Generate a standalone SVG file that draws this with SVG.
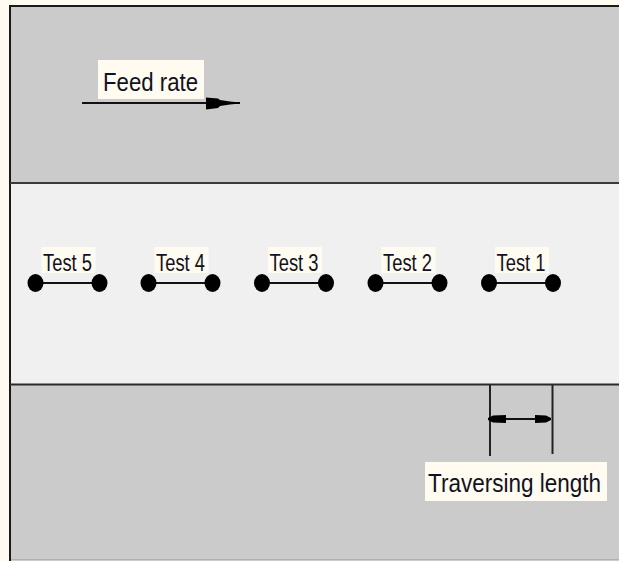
<svg xmlns="http://www.w3.org/2000/svg" width="619" height="561" viewBox="0 0 619 561">
<defs>
<style>
.lbl{fill:#FFFBF0}
.t{font-family:"Liberation Sans",Arial,sans-serif;fill:#111122}
.ln{stroke:#111;stroke-width:2;fill:none}
.dot{fill:#000}
.ah{fill:#000}
</style>
</defs>
<rect x="0" y="0" width="619" height="561" fill="#FFFBF0"/>
<g id="frame">
<rect x="10" y="6" width="640" height="600" fill="#CBCBCB" stroke="#1a1a1a" stroke-width="2"/>
<rect x="11" y="183" width="640" height="201" fill="#F0F0F0"/>
<line x1="10" y1="183" x2="619" y2="183" stroke="#3a3a3a" stroke-width="2"/>
<line x1="10" y1="384.5" x2="619" y2="384.5" stroke="#2a2a2a" stroke-width="2"/>
<line x1="11" y1="559.5" x2="619" y2="559.5" stroke="#b0b0b0" stroke-width="1"/>
</g>
<g id="feed-rate">
<rect class="lbl" x="98" y="60" width="106" height="39"/>
<text class="t" x="103" y="90.5" font-size="26" textLength="95" lengthAdjust="spacingAndGlyphs">Feed rate</text>
</g>
<g id="connectors">
<line class="ln" x1="82" y1="103" x2="240" y2="103"/>
<polygon class="ah" points="206,97.5 218,98.5 220,100 230,101.5 240,102.5 240,103.5 230,104.5 220,106 218,108 206,109.5"/>
<line x1="490" y1="385" x2="490" y2="456" stroke="#222" stroke-width="2"/>
<line x1="552.5" y1="385" x2="552.5" y2="454" stroke="#222" stroke-width="2"/>
<line class="ln" x1="488" y1="419" x2="551" y2="419"/>
<polygon class="ah" points="488,418 493,415.5 506,415 506,423 493,422.5 488,420"/>
<polygon class="ah" points="551,418 546,415.5 535,415 535,423 546,422.5 551,420"/>
</g>
<g id="test5">
<rect class="lbl" x="41.5" y="247" width="54" height="26"/>
<text class="t" x="43" y="271" font-size="23.5" textLength="49" lengthAdjust="spacingAndGlyphs">Test 5</text>
<line class="ln" x1="35.5" y1="283" x2="99.5" y2="283"/>
<ellipse class="dot" cx="35.5" cy="283" rx="8" ry="9"/>
<ellipse class="dot" cx="99.5" cy="283" rx="8" ry="9"/>
</g>
<g id="test4">
<rect class="lbl" x="154.5" y="247" width="54" height="26"/>
<text class="t" x="156" y="271" font-size="23.5" textLength="49" lengthAdjust="spacingAndGlyphs">Test 4</text>
<line class="ln" x1="148.5" y1="283" x2="212.5" y2="283"/>
<ellipse class="dot" cx="148.5" cy="283" rx="8" ry="9"/>
<ellipse class="dot" cx="212.5" cy="283" rx="8" ry="9"/>
</g>
<g id="test3">
<rect class="lbl" x="268" y="247" width="54" height="26"/>
<text class="t" x="269.5" y="271" font-size="23.5" textLength="49" lengthAdjust="spacingAndGlyphs">Test 3</text>
<line class="ln" x1="262" y1="283" x2="326" y2="283"/>
<ellipse class="dot" cx="262" cy="283" rx="8" ry="9"/>
<ellipse class="dot" cx="326" cy="283" rx="8" ry="9"/>
</g>
<g id="test2">
<rect class="lbl" x="381.5" y="247" width="54" height="26"/>
<text class="t" x="383" y="271" font-size="23.5" textLength="49" lengthAdjust="spacingAndGlyphs">Test 2</text>
<line class="ln" x1="375.5" y1="283" x2="439.5" y2="283"/>
<ellipse class="dot" cx="375.5" cy="283" rx="8" ry="9"/>
<ellipse class="dot" cx="439.5" cy="283" rx="8" ry="9"/>
</g>
<g id="test1">
<rect class="lbl" x="495" y="247" width="54" height="26"/>
<text class="t" x="496.5" y="271" font-size="23.5" textLength="49" lengthAdjust="spacingAndGlyphs">Test 1</text>
<line class="ln" x1="489" y1="283" x2="553" y2="283"/>
<ellipse class="dot" cx="489" cy="283" rx="8" ry="9"/>
<ellipse class="dot" cx="553" cy="283" rx="8" ry="9"/>
</g>
<g id="traversing-length">
<rect class="lbl" x="425" y="462" width="182" height="39"/>
<text class="t" x="428" y="492" font-size="26.5" textLength="173" lengthAdjust="spacingAndGlyphs">Traversing length</text>
</g>
</svg>
